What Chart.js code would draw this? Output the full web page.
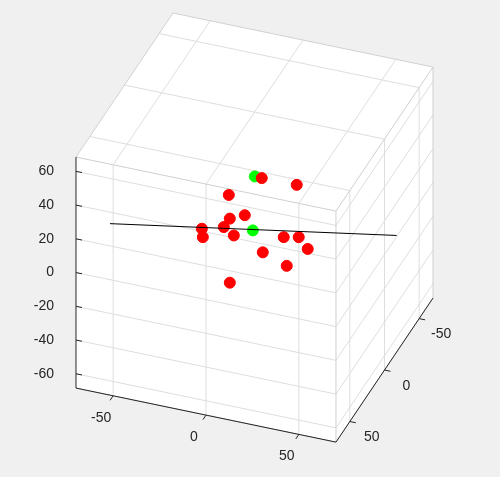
<!DOCTYPE html>
<html>
<head>
<meta charset="utf-8">
<script src="https://cdn.jsdelivr.net/npm/chart.js@4.4.1/dist/chart.umd.min.js"></script>
<style>
  html, body { margin: 0; padding: 0; background: #f0f0f0; }
  #wrap { width: 500px; height: 477px; }
</style>
</head>
<body>
<div id="wrap"><canvas id="myChart"></canvas></div>
<script>
// projected horizontal position / vertical (z) value of each marker
const redX = [70, 105, 37, 53, 38, 10, 32, 42, 11, 92, 107, 116, 71, 95, 38];
const redZ = [56, 52, 46, 34, 32, 26, 27, 22, 21, 21, 21, 14, 12, 4, -6];
const greenX = [63, 61];
const greenZ = [57, 25];
const fitX = [-82, 205];
const fitZ = [29, 22];
const zTicks = [-60, -40, -20, 0, 20, 40, 60];
const xTicks = [-50, 0, 50];
const yTicks = [-50, 0, 50];

const toPts = (xs, zs) => xs.map((v, i) => ({ x: v, y: zs[i] }));

// 3d box drawn behind the markers
const boxPlugin = {
    id: 'box',
    beforeDatasetsDraw(chart) {
        const c = chart.ctx;
        const ys = chart.scales.y, xs = chart.scales.x;
        const left = xs.getPixelForValue(-116);
        const zp = z => ys.getPixelForValue(0) - z * 1.65;
        const P = (x, y, z) => [
            left + (x + 70) * 1.857 - (y - 70) * 0.693,
            zp(z) + (x + 70) * 0.386 + (y - 70) * 1.029
        ];
        const line = (a, b, col, w) => {
            c.strokeStyle = col; c.lineWidth = w || 1;
            c.beginPath(); c.moveTo(a[0], a[1]); c.lineTo(b[0], b[1]); c.stroke();
        };
        c.save();
        // white box faces
        const hex = [P(-70, 70, -70), P(-70, 70, 70), P(-70, -70, 70), P(70, -70, 70), P(70, -70, -70), P(70, 70, -70)];
        c.fillStyle = '#ffffff';
        c.beginPath();
        hex.forEach((p, i) => i ? c.lineTo(p[0], p[1]) : c.moveTo(p[0], p[1]));
        c.closePath(); c.fill();
        const g = '#dedede';
        xTicks.forEach(x => line(P(x, 70, -70), P(x, 70, 70), g));
        yTicks.forEach(y => line(P(70, y, -70), P(70, y, 70), g));
        xTicks.forEach(x => line(P(x, -70, 70), P(x, 70, 70), g));
        yTicks.forEach(y => line(P(-70, y, 70), P(70, y, 70), g));
        // z grid lines follow the labelled z scale
        zTicks.forEach(z => {
            const dz = ys.getPixelForValue(z) - zp(z);
            const a = P(-70, 70, z), b = P(70, 70, z), d = P(70, -70, z);
            line([a[0], a[1] + dz], [b[0], b[1] + dz], g);
            line([b[0], b[1] + dz], [d[0], d[1] + dz], g);
        });
        const e = '#d0d0d0';
        line(P(-70, 70, 70), P(70, 70, 70), e);
        line(P(70, 70, 70), P(70, -70, 70), e);
        line(P(70, 70, 70), P(70, 70, -70), e);
        for (let i = 1; i < hex.length; i++) line(hex[i], hex[(i + 1) % hex.length], e);
        // axes
        const k = '#262626';
        line(P(-70, 70, -70), P(-70, 70, 70), k);
        line(P(-70, 70, -70), P(70, 70, -70), k);
        line(P(70, 70, -70), P(70, -70, -70), k);
        zTicks.forEach(z => {
            const a = [P(-70, 70, z)[0], ys.getPixelForValue(z)];
            line(a, [a[0] + 6, a[1] + 1.2], k);
        });
        c.fillStyle = k;
        c.font = '14px "Liberation Sans", Arial, sans-serif';
        c.textAlign = 'center'; c.textBaseline = 'middle';
        xTicks.forEach(x => {
            const a = P(x, 70, -70);
            line(a, [a[0] - 3, a[1] + 4.5], k);
            c.fillText(String(x), a[0] - 12, a[1] + 22);
        });
        yTicks.forEach(y => {
            const a = P(70, y, -70);
            line(a, [a[0] + 6, a[1] + 1.2], k);
            c.fillText(String(y), a[0] + 22, a[1] + 16);
        });
        c.restore();
    }
};

const data = {
    datasets: [{
        type: 'line',
        data: toPts(fitX, fitZ),
        borderColor: '#000000',
        borderWidth: 1,
        pointRadius: 0,
        fill: false
    }, {
        data: toPts(redX, redZ),
        backgroundColor: '#ff0000',
        borderColor: '#ff0000',
        pointRadius: 5.5
    }, {
        data: toPts(greenX, greenZ),
        backgroundColor: '#00ff00',
        borderColor: '#00ff00',
        pointRadius: 5.5
    }]
};

const config = {
    type: 'scatter',
    data: data,
    plugins: [boxPlugin],
    options: {
        responsive: true,
        maintainAspectRatio: false,
        animation: false,
        layout: { padding: 0 },
        plugins: { legend: { display: false }, tooltip: { enabled: false } },
        scales: {
            x: { display: false, min: -117, max: 302 },
            y: {
                min: -108.5, max: 148.9,
                grid: { display: false },
                border: { display: false },
                afterBuildTicks: s => { s.ticks = zTicks.map(v => ({ value: v })); },
                afterFit: s => { s.width = 75; },
                ticks: {
                    padding: 13,
                    color: '#262626',
                    font: { family: '"Liberation Sans", Arial, sans-serif', size: 14 }
                }
            }
        }
    }
};

const ctx = document.getElementById('myChart');
const chart = new Chart(ctx, config);
</script>
</body>
</html>
